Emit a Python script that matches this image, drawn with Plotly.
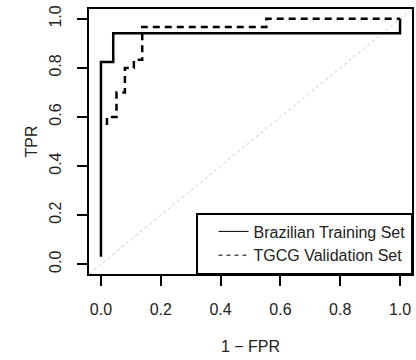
import plotly.graph_objects as go

# Brazilian Training Set ROC (x = 1 - FPR as labelled, y = TPR)
train_x = [0.0, 0.0, 0.041, 0.041, 1.0, 1.0]
train_y = [0.03, 0.824, 0.824, 0.941, 0.941, 1.0]

# TGCG Validation Set ROC
valid_x = [0.02, 0.02, 0.052, 0.052, 0.08, 0.08, 0.11, 0.11, 0.138, 0.138, 0.553, 0.553, 1.0]
valid_y = [0.567, 0.6, 0.6, 0.7, 0.7, 0.8, 0.8, 0.833, 0.833, 0.967, 0.967, 1.0, 1.0]

# reference diagonal (abline 0,1)
diag_x = [-0.04, 1.04]
diag_y = [-0.04, 1.04]

tick_vals = [0.0, 0.2, 0.4, 0.6, 0.8, 1.0]
tick_text = ["0.0", "0.2", "0.4", "0.6", "0.8", "1.0"]
series_names = ["Brazilian Training Set", "TGCG Validation Set"]

FONT = "Liberation Sans, Arial, sans-serif"
TXT = "#222222"

fig = go.Figure()
fig.add_trace(go.Scatter(x=diag_x, y=diag_y, mode="lines", showlegend=False,
                         line=dict(color="#c8c8c8", width=1, dash="dot"), hoverinfo="skip"))
fig.add_trace(go.Scatter(x=train_x, y=train_y, mode="lines", name=series_names[0], showlegend=False,
                         line=dict(color="black", width=2.5)))
fig.add_trace(go.Scatter(x=valid_x, y=valid_y, mode="lines", name=series_names[1], showlegend=False,
                         line=dict(color="black", width=2.5, dash="7px,5px")))
# legend keys (thin lines like the reference legend)
fig.add_trace(go.Scatter(x=[None], y=[None], mode="lines", name=series_names[0],
                         line=dict(color="black", width=1)))
fig.add_trace(go.Scatter(x=[None], y=[None], mode="lines", name=series_names[1],
                         line=dict(color="black", width=1, dash="4px,4px")))

axis_common = dict(
    showline=True, mirror=True, linecolor="black", linewidth=1.5,
    showgrid=False, zeroline=False,
    ticks="outside", ticklen=10, tickwidth=1.5, tickcolor="black",
    tickvals=tick_vals, ticktext=tick_text, ticklabeloverflow="allow",
    tickfont=dict(family=FONT, size=16, color=TXT),
)

fig.update_layout(
    width=416, height=360,
    margin=dict(l=89, r=2, t=9, b=86),
    paper_bgcolor="white", plot_bgcolor="white",
    font=dict(family=FONT, size=16, color=TXT),
    xaxis=dict(range=[-0.04, 1.04], ticklabelstandoff=10,
               title=dict(text="1 − FPR", font=dict(size=16, family=FONT, color=TXT), standoff=24),
               **axis_common),
    yaxis=dict(range=[-0.04, 1.04], tickangle=-90, ticklabelstandoff=10,
               title=dict(text="TPR", font=dict(size=16, family=FONT, color=TXT), standoff=5),
               **axis_common),
    legend=dict(x=1, xanchor="right", y=0, yanchor="bottom", bordercolor="black", borderwidth=1.5,
                bgcolor="white", font=dict(family=FONT, size=16, color=TXT),
                tracegroupgap=0, itemwidth=30, indentation=16,
                entrywidth=168, entrywidthmode="pixels"),
)

# remove the default 8px page margin so the figure sits at the window origin
fig.write_html("out.html", config={"displayModeBar": False},
               post_script="document.body.style.margin='0';")
